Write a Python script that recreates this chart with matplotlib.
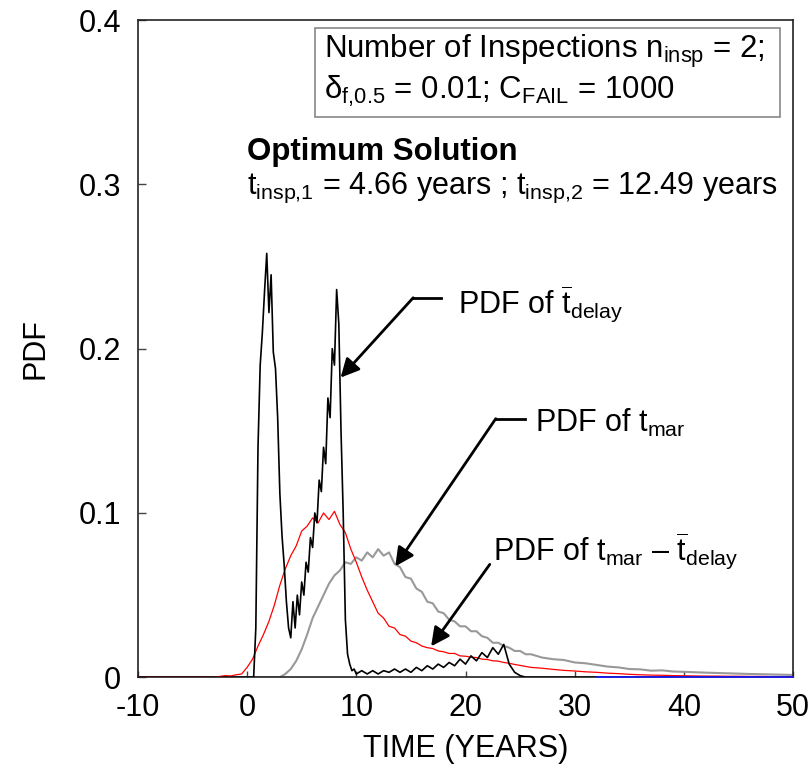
import numpy as np
import matplotlib
matplotlib.use("Agg")
import matplotlib.pyplot as plt
from matplotlib.patches import Rectangle

plt.rcParams['font.family'] = ['Liberation Sans', 'DejaVu Sans']
plt.rcParams['mathtext.fontset'] = 'custom'
plt.rcParams['mathtext.rm'] = 'Liberation Sans'
plt.rcParams['mathtext.it'] = 'Liberation Sans:italic'
plt.rcParams['mathtext.bf'] = 'Liberation Sans:bold'

# ---------------- data ----------------
# PDF of t_delay (black)
delay_t = np.concatenate([[-10.0], np.round(np.arange(0.6, 10.01, 0.2), 2),
                          np.round(np.arange(10.5, 26.01, 0.5), 2), [50.0]])
delay_v = [0.0,
           0.0, 0.03, 0.14, 0.19, 0.21, 0.235, 0.258, 0.222, 0.245, 0.198,
           0.188, 0.158, 0.112, 0.086, 0.068, 0.046, 0.03, 0.024, 0.046, 0.03,
           0.05, 0.038, 0.058, 0.05, 0.07, 0.064, 0.085, 0.079, 0.1, 0.094,
           0.12, 0.113, 0.14, 0.13, 0.17, 0.158, 0.2, 0.19, 0.236, 0.215,
           0.15, 0.1, 0.035, 0.014, 0.008, 0.004, 0.005, 0.002,
           0.004, 0.002, 0.004, 0.002, 0.004, 0.003, 0.005, 0.003, 0.005, 0.003,
           0.006, 0.004, 0.007, 0.005, 0.008, 0.006, 0.009, 0.007, 0.011, 0.008,
           0.013, 0.01, 0.015, 0.012, 0.018, 0.014, 0.02, 0.008, 0.003, 0.001,
           0.0, 0.0,
           0.0]

# PDF of t_mar - t_delay (red)
diff_t = np.concatenate([[-10.0], np.round(np.arange(-3.0, 26.01, 0.5), 2),
                         np.arange(27, 51, 1.0)])
diff_v = [0.0,
          0.0, 0.0005, 0.001, 0.0008, 0.0015, 0.002, 0.006, 0.011, 0.019, 0.026,
          0.034, 0.044, 0.056, 0.066, 0.074, 0.08, 0.089, 0.092, 0.097, 0.094,
          0.1, 0.096, 0.101, 0.093, 0.088, 0.078, 0.07, 0.061, 0.053, 0.046,
          0.039, 0.036, 0.031, 0.03, 0.026, 0.025, 0.022, 0.021, 0.019, 0.018,
          0.0175, 0.016, 0.0155, 0.0145, 0.0145, 0.013, 0.0128, 0.0122, 0.012, 0.011,
          0.0108, 0.01, 0.0098, 0.009, 0.0085, 0.0078, 0.0072, 0.0066, 0.006,
          0.0055, 0.0048, 0.0042, 0.0038, 0.0033, 0.003, 0.0025, 0.0022, 0.0018, 0.0015,
          0.0013, 0.0012, 0.001, 0.0009, 0.0008, 0.0007, 0.0007, 0.0006, 0.0006, 0.0005,
          0.0005, 0.0004, 0.0004, 0.0003]

# PDF of t_mar (gray)
mar_t = np.concatenate([[-10.0], np.round(np.arange(3.0, 26.01, 0.5), 2),
                        np.arange(27, 41, 1.0), [42.0, 44.0, 46.0, 48.0, 50.0]])
mar_v = [0.0,
         0.0, 0.002, 0.005, 0.01, 0.017, 0.026, 0.036, 0.043, 0.05, 0.057,
         0.062, 0.065, 0.07, 0.069, 0.073, 0.071, 0.076, 0.073, 0.078, 0.074,
         0.076, 0.069, 0.067, 0.061, 0.06, 0.054, 0.052, 0.046, 0.045, 0.04,
         0.039, 0.035, 0.034, 0.031, 0.031, 0.028, 0.028, 0.025, 0.024, 0.021,
         0.021, 0.019, 0.018, 0.016, 0.016, 0.014, 0.014,
         0.012, 0.011, 0.0105, 0.009, 0.0085, 0.0075, 0.0065, 0.006, 0.005, 0.0048,
         0.004, 0.0042, 0.0035, 0.0033,
         0.0028, 0.0024, 0.002, 0.0017, 0.0014]

# fourth trace lying on the axis (blue)
zero_t = [32.0, 50.0]
zero_v = [0.0, 0.0]

x_ticks = [-10, 0, 10, 20, 30, 40, 50]
x_labels = ['-10', '0', '10', '20', '30', '40', '50']
y_ticks = [0, 0.1, 0.2, 0.3, 0.4]
y_labels = ['0', '0.1', '0.2', '0.3', '0.4']

# ---------------- figure ----------------
FS = 22
fig = plt.figure(figsize=(8.11, 7.74), dpi=100)
ax = fig.add_axes([0.170, 0.125, 0.808, 0.849])

ax.plot(mar_t, mar_v, color='#999999', lw=1.5, zorder=2)
ax.plot(diff_t, diff_v, color='#ff0000', lw=0.9, zorder=3)
ax.plot(delay_t, delay_v, color='black', lw=1.2, zorder=4)
ax.plot(zero_t, zero_v, color='#1a1aff', lw=1.2, zorder=5, clip_on=False)

ax.set_xlim(-10, 50)
ax.set_ylim(0, 0.4)
ax.set_xticks(x_ticks)
ax.set_xticklabels(x_labels)
ax.set_yticks(y_ticks)
ax.set_yticklabels(y_labels)
ax.tick_params(axis='both', direction='in', labelsize=FS, width=1, color='#444444')
ax.tick_params(axis='y', length=6, pad=12)
ax.tick_params(axis='x', length=4, pad=11)
for s in ax.spines.values():
    s.set_linewidth(1.2)
    s.set_color('#222222')

ax.set_xlabel('TIME (YEARS)', fontsize=FS, labelpad=8)
ax.set_ylabel('PDF', fontsize=FS, labelpad=20)

# parameter box
ax.add_patch(Rectangle((6.2, 0.341), 42.6, 0.054, fill=False, ec='#888888', lw=1.2,
                       zorder=6))
ax.text(7.0, 0.377, r'Number of Inspections n$_{\mathrm{insp}}$ = 2;', fontsize=22.5,
        ha='left', va='baseline', zorder=7)
ax.text(7.0, 0.352, r'$\mathrm{δ}_{\mathrm{f{,}0.5}}$ = 0.01; C$_{\mathrm{FAIL}}$ = 1000',
        fontsize=22.5, ha='left', va='baseline', zorder=7)

ax.text(0.0, 0.315, 'Optimum Solution', fontsize=22.5, fontweight='bold',
        ha='left', va='baseline')
ax.text(0.0, 0.2945,
        r't$_{\mathrm{insp{,}1}}$ = 4.66 years ; t$_{\mathrm{insp{,}2}}$ = 12.49 years',
        fontsize=22, ha='left', va='baseline')

# annotations
arrow_kw = dict(arrowstyle='-|>', color='black', lw=2.0, mutation_scale=28,
                shrinkA=0, shrinkB=0)

# PDF of t_delay
ax.plot([17.76, 15.21], [0.231, 0.231], color='black', lw=2.0)
ax.annotate('', xy=(8.56, 0.1824), xytext=(15.21, 0.231), arrowprops=arrow_kw)
ax.text(19.3, 0.222, r'PDF of $\overline{\mathrm{t}}_{\mathrm{delay}}$', fontsize=FS,
        ha='left', va='baseline')

# PDF of t_mar
ax.plot([25.41, 22.77], [0.1574, 0.1574], color='black', lw=2.0)
ax.annotate('', xy=(13.57, 0.0675), xytext=(22.77, 0.1574), arrowprops=arrow_kw)
ax.text(26.4, 0.1495, r'PDF of t$_{\mathrm{mar}}$', fontsize=FS,
        ha='left', va='baseline')

# PDF of t_mar - t_delay
ax.annotate('', xy=(16.85, 0.0188), xytext=(22.22, 0.0687), arrowprops=arrow_kw)
ax.text(22.5, 0.0717,
        r'PDF of t$_{\mathrm{mar}}$ – $\overline{\mathrm{t}}_{\mathrm{delay}}$',
        fontsize=FS, ha='left', va='baseline')

fig.savefig('out.png', dpi=100)
